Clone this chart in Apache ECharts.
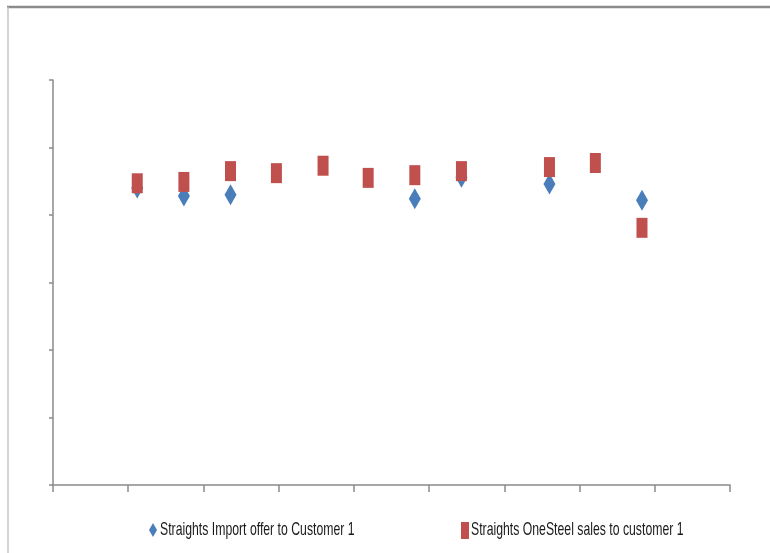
<!DOCTYPE html>
<html><head><meta charset="utf-8">
<script src="https://cdn.jsdelivr.net/npm/echarts@6/dist/echarts.min.js"></script>
<style>html,body{margin:0;padding:0;background:#fff}#c{width:770px;height:553px}</style>
</head><body><div id="c"></div>
<script>
// x values (days), y values (no labels shown in original)
const redX = [56, 87, 118, 148.5, 179.5, 209.5, 240.5, 271.5, 330, 360.5, 391.5];
const redY = [4.47, 4.49, 4.65, 4.62, 4.73, 4.55, 4.59, 4.65, 4.71, 4.77, 3.81];
const blueX = [56, 87, 118, 240.5, 271.5, 330, 391.5];
const blueY = [4.40, 4.28, 4.30, 4.24, 4.56, 4.46, 4.22];
const seriesNames = ['Straights Import offer to Customer 1', 'Straights OneSteel sales to customer 1'];

const chart = echarts.init(document.getElementById('c'));
const font = "'Liberation Sans','Arial',sans-serif";
const BLUE = '#4A7EBB', RED = '#C0504D';
chart.setOption({
  animation: false,
  backgroundColor: '#fff',
  grid: {left: 53, top: 80, right: 40, bottom: 68},
  xAxis: {type: 'value', min: 0, max: 450, interval: 50,
    axisLine: {lineStyle: {color: '#8a8a8a', width: 1.5}},
    axisTick: {show: true, length: 7, lineStyle: {color: '#8a8a8a', width: 1.5}},
    axisLabel: {show: false}, splitLine: {show: false}},
  yAxis: {type: 'value', min: 0, max: 6, interval: 1,
    axisLine: {show: true, lineStyle: {color: '#8a8a8a', width: 1.5}},
    axisTick: {show: true, length: 4, lineStyle: {color: '#8a8a8a', width: 1.5}},
    axisLabel: {show: false}, splitLine: {show: false}},
  legend: {show: false, data: seriesNames},
  series: [
    {name: seriesNames[0], type: 'scatter', symbol: 'diamond', symbolSize: [12, 21],
     itemStyle: {color: BLUE, opacity: 1}, data: blueX.map((x, i) => [x, blueY[i]]), z: 2},
    {name: seriesNames[1], type: 'scatter', symbol: 'rect', symbolSize: [11, 20],
     itemStyle: {color: RED, opacity: 1}, data: redX.map((x, i) => [x, redY[i]]), z: 3}
  ],
  graphic: [
    {type: 'line', shape: {x1: 7, y1: 7, x2: 770, y2: 7}, style: {stroke: '#8c8c8c', lineWidth: 2.5}},
    {type: 'line', shape: {x1: 8, y1: 7, x2: 8, y2: 553}, style: {stroke: '#c4c4c4', lineWidth: 1.5}},
    {type: 'polygon', shape: {points: [[153, 523], [157, 530], [153, 537], [149, 530]]}, style: {fill: BLUE}},
    {type: 'text', x: 160, y: 530, scaleX: 0.645, style: {text: seriesNames[0], font: '19px ' + font, fill: '#1a1a1a', textVerticalAlign: 'middle', verticalAlign: 'middle'}},
    {type: 'rect', shape: {x: 461, y: 522, width: 8, height: 17}, style: {fill: RED}},
    {type: 'text', x: 471, y: 530, scaleX: 0.645, style: {text: seriesNames[1], font: '19px ' + font, fill: '#1a1a1a', textVerticalAlign: 'middle', verticalAlign: 'middle'}}
  ]
});
</script></body></html>
